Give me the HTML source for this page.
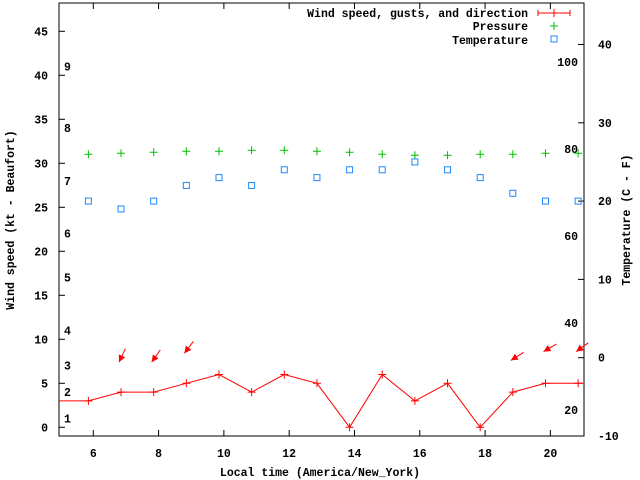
<!DOCTYPE html>
<html><head><meta charset="utf-8"><style>
body{margin:0;background:#fff}
svg{display:block;font-family:"Liberation Mono",monospace;font-size:11.5px;font-weight:bold}
</style></head><body>
<svg id="c" width="640" height="480" xmlns="http://www.w3.org/2000/svg">
<rect x="59" y="3" width="525" height="433" fill="none" stroke="#000"/>
<g id="ax"></g><g id="marks"></g>
<text x="14" y="220" transform="rotate(-90 14 220)" text-anchor="middle">Wind speed (kt - Beaufort)</text>
<text x="630" y="220" transform="rotate(-90 630 220)" text-anchor="middle">Temperature (C - F)</text>
<text x="320" y="476" text-anchor="middle">Local time (America/New_York)</text>
<g>
<text x="528" y="17" text-anchor="end">Wind speed, gusts, and direction</text>
<line x1="538" y1="13" x2="570" y2="13" stroke="#f00"/>
<path d="M538 10v6M570 10v6M554 9v8" stroke="#f00"/>
<text x="528" y="30" text-anchor="end">Pressure</text>
<path d="M550 26h8M554 22v8" stroke="#00c000"/>
<text x="528" y="44" text-anchor="end">Temperature</text>
<rect x="551" y="36" width="6" height="6" fill="none" stroke="#1e88ff"/>
</g>
</svg>
<script>
const hours=[5.85,6.85,7.85,8.85,9.85,10.85,11.85,12.85,13.85,14.85,15.85,16.85,17.85,18.85,19.85,20.85];
const windSpeed=[3,4,4,5,6,4,6,5,0,6,3,5,0,4,5,5];
const pressure=[1015.0,1015.1,1015.2,1015.3,1015.3,1015.4,1015.4,1015.3,1015.2,1015.0,1014.9,1014.9,1015.0,1015.0,1015.1,1015.1];
const temperature=[20,19,20,22,23,22,24,23,24,24,25,24,23,21,20,20];
const arrowHours=[6.85,7.85,8.85,18.85,19.85,20.85];
const arrowGust=[7.4,7.4,8.4,7.6,8.6,8.6];
const arrowDir=[25,35,37,58,60,54];
const xTicks=[6,8,10,12,14,16,18,20];
const yTicks=[0,5,10,15,20,25,30,35,40,45];
const y2Ticks=[-10,0,10,20,30,40];
const fLabels=[20,40,60,80,100];
const bft=[1,2,3,4,5,6,7,8,9];
const bftKt=[1,4,7,11,17,22,28,34,41];
const NS='http://www.w3.org/2000/svg';
const X=h=>59+(h-4.95)*32.65;
const Y=v=>427.3-v*8.8;
const Y2=c=>357.7-c*7.83;
const P=p=>154.3-(p-1015)*10;
const ax=document.getElementById('ax'),mk=document.getElementById('marks');
function el(t,a,p){const e=document.createElementNS(NS,t);for(const k in a)e.setAttribute(k,a[k]);p.appendChild(e);return e;}
xTicks.forEach(t=>{
 const l=el('path',{d:`M${X(t)} 436v-6M${X(t)} 3v6`,stroke:'#000'},ax);
 
 
 const s=el('text',{x:X(t),y:457,'text-anchor':'middle'},ax);s.textContent=t;
 
 
});
yTicks.forEach(t=>{
 const l=el('path',{d:`M59 ${Y(t)}h6`,stroke:'#000'},ax);
 
 
 const s=el('text',{x:48,y:Y(t)+4,'text-anchor':'end'},ax);s.textContent=t;
 
 
});
y2Ticks.forEach(t=>{
 const l=el('path',{d:`M584 ${Y2(t)}h-6`,stroke:'#000'},ax);
 
 
 const s=el('text',{x:598,y:Y2(t)+4},ax);s.textContent=t;
 
 
});
fLabels.forEach(f=>{
 const s=el('text',{x:578,y:Y2((f-32)*5/9)+4,'text-anchor':'end'},ax);s.textContent=f;
 
 
});
bft.forEach((b,i)=>{
 const s=el('text',{x:64,y:Y(bftKt[i])+4},ax);s.textContent=b;
 
 
});
let pts=[[59,Y(windSpeed[0])]];hours.forEach((h,i)=>pts.push([X(h),Y(windSpeed[i])]));pts.push([584,Y(windSpeed[windSpeed.length-1])]);
const wl=el('polyline',{points:pts.map(p=>p.join(',')).join(' '),fill:'none',stroke:'#f00'},mk);


hours.forEach((h,i)=>{
 const x=X(h),y=Y(windSpeed[i]);
 const w=el('path',{d:`M${x-4} ${y}h8M${x} ${y-4}v8`,stroke:'#f00'},mk);
 
 
 const py=P(pressure[i]);
 const p=el('path',{d:`M${x-4} ${py}h8M${x} ${py-4}v8`,stroke:'#00c000'},mk);
 
 
 const ty=Y2(temperature[i]);
 const t=el('rect',{x:x-3,y:ty-3,width:6,height:6,fill:'none',stroke:'#1e88ff'},mk);
 
 
});
arrowHours.forEach((h,i)=>{
 const hx=X(h)-2,hy=Y(arrowGust[i]);const a=arrowDir[i]*Math.PI/180;
 const dx=-Math.sin(a),dy=Math.cos(a);const L=15;
 const tx=hx-dx*L,ty=hy-dy*L;
 const bx=hx-dx*7,by=hy-dy*7,px=-dy*3.5,py=dx*3.5;
 const g=el('g',{},mk);
 
 
 el('line',{x1:tx,y1:ty,x2:hx,y2:hy,stroke:'#f00'},g);
 el('polygon',{points:`${hx},${hy} ${bx+px},${by+py} ${bx-px},${by-py}`,fill:'#f00'},g);
});
</script>
</body></html>
